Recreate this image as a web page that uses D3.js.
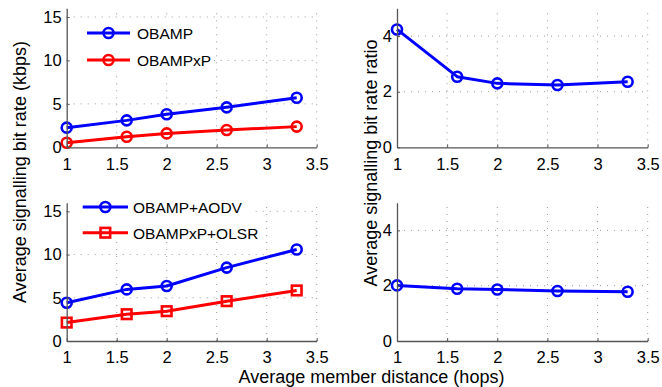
<!DOCTYPE html>
<html>
<head>
<meta charset="utf-8">
<script src="https://cdn.jsdelivr.net/npm/d3@7/dist/d3.min.js"></script>
<style>
  html, body { margin: 0; padding: 0; background: #fff; }
  svg { display: block; font-family: "Liberation Sans", Arial, Helvetica, sans-serif; }
</style>
</head>
<body>
<svg id="chart" width="662" height="387"></svg>
<script>
// ---- data ----
const hops = [1, 1.6, 2, 2.6, 3.3];
const obamp = [2.26, 3.1, 3.8, 4.6, 5.7];
const obampxp = [0.53, 1.22, 1.6, 2.0, 2.38];
const ratioTop = [4.24, 2.54, 2.30, 2.24, 2.36];
const obampAodv = [4.42, 5.97, 6.36, 8.49, 10.58];
const obampxpOlsr = [2.13, 3.10, 3.45, 4.61, 5.85];
const ratioBottom = [2.01, 1.89, 1.86, 1.81, 1.78];
const xTicks = [1, 1.5, 2, 2.5, 3, 3.5];
const yTicksRate = [0, 5, 10, 15];
const yTicksRatio = [0, 2, 4];
const yLabelRate = "Average signalling bit rate (kbps)";
const yLabelRatio = "Average signalling bit rate ratio";
const xLabel = "Average member distance (hops)";

const BLUE = "#0000ff", RED = "#ff0000";
const svg = d3.select("#chart");

const panels = [
  { x0: 66.7, x1: 316.7, y0: 147.3, y1: 8.3, ymax: 16, yTicks: yTicksRate,
    series: [{ name: "OBAMP", vals: obamp, color: BLUE, marker: "circle" },
             { name: "OBAMPxP", vals: obampxp, color: RED, marker: "circle" }],
    legend: { box: [72, 20, 214, 75], lx0: 87, lx1: 130, ys: [33, 60], tx: 137 } },
  { x0: 397, x1: 647.7, y0: 147.3, y1: 8.3, ymax: 5, yTicks: yTicksRatio,
    series: [{ name: "ratio", vals: ratioTop, color: BLUE, marker: "circle" }] },
  { x0: 66.7, x1: 316.7, y0: 341, y1: 202.7, ymax: 16, yTicks: yTicksRate,
    series: [{ name: "OBAMP+AODV", vals: obampAodv, color: BLUE, marker: "circle" },
             { name: "OBAMPxP+OLSR", vals: obampxpOlsr, color: RED, marker: "square" }],
    legend: { box: [70, 194, 255, 242], lx0: 82.7, lx1: 128, ys: [207, 232.7], tx: 133 } },
  { x0: 397, x1: 647.7, y0: 341, y1: 202.7, ymax: 5, yTicks: yTicksRatio,
    series: [{ name: "ratio", vals: ratioBottom, color: BLUE, marker: "circle" }] }
];

function drawMarker(g, type, cx, cy, color) {
  if (type === "circle") {
    g.append("circle").attr("cx", cx).attr("cy", cy).attr("r", 5)
      .attr("fill", "none").attr("stroke", color).attr("stroke-width", 2.6);
  } else {
    g.append("rect").attr("x", cx - 4.8).attr("y", cy - 4.8).attr("width", 9.6).attr("height", 9.6)
      .attr("fill", "none").attr("stroke", color).attr("stroke-width", 2.6);
  }
}

panels.forEach(p => {
  const x = d3.scaleLinear().domain([1, 3.5]).range([p.x0, p.x1]);
  const y = d3.scaleLinear().domain([0, p.ymax]).range([p.y0, p.y1]);
  const g = svg.append("g");

  // grid
  const grid = g.append("g").attr("stroke", "#9a9a9a").attr("stroke-width", 1)
    .attr("stroke-dasharray", "1,6").attr("fill", "none");
  xTicks.slice(1).forEach(t => {
    grid.append("line").attr("x1", x(t)).attr("x2", x(t)).attr("y1", y(0)).attr("y2", y(p.ymax));
  });
  p.yTicks.slice(1).forEach(t => {
    grid.append("line").attr("x1", x(1)).attr("x2", x(3.5)).attr("y1", y(t)).attr("y2", y(t));
  });

  // series
  p.series.forEach(s => {
    const pts = hops.map((h, i) => [x(h), y(s.vals[i])]);
    g.append("path").attr("d", d3.line()(pts)).attr("fill", "none")
      .attr("stroke", s.color).attr("stroke-width", 3).attr("stroke-linejoin", "round");
    pts.forEach(pt => drawMarker(g, s.marker, pt[0], pt[1], s.color));
  });

  // axes
  const ax = g.append("g").attr("transform", `translate(0,${p.y0})`)
    .call(d3.axisBottom(x).tickValues(xTicks).tickFormat(d3.format("")).tickSizeInner(-3).tickSizeOuter(0).tickPadding(10.5));
  const ay = g.append("g").attr("transform", `translate(${p.x0},0)`)
    .call(d3.axisLeft(y).tickValues(p.yTicks).tickFormat(d3.format("")).tickSizeInner(-3).tickSizeOuter(0).tickPadding(5));
  [ax, ay].forEach(a => {
    a.select(".domain").attr("stroke", "#555").attr("stroke-width", 1.3);
    a.selectAll(".tick line").attr("stroke", "#555");
    a.selectAll("text").attr("font-size", 16.5).attr("fill", "#000")
      .attr("font-family", '"Liberation Sans", Arial, Helvetica, sans-serif');
  });

  // legend
  if (p.legend) {
    const L = p.legend;
    g.append("rect").attr("x", L.box[0]).attr("y", L.box[1])
      .attr("width", L.box[2] - L.box[0]).attr("height", L.box[3] - L.box[1]).attr("fill", "#fff");
    p.series.forEach((s, i) => {
      const ly = L.ys[i];
      g.append("line").attr("x1", L.lx0).attr("x2", L.lx1).attr("y1", ly).attr("y2", ly)
        .attr("stroke", s.color).attr("stroke-width", 3);
      drawMarker(g, s.marker, (L.lx0 + L.lx1) / 2, ly, s.color);
      g.append("text").attr("x", L.tx).attr("y", ly + 6).attr("font-size", 15.5).text(s.name);
    });
  }
});

// axis labels
svg.append("text").attr("transform", "translate(26,172) rotate(-90)")
  .attr("text-anchor", "middle").attr("font-size", 18).text(yLabelRate);
svg.append("text").attr("transform", "translate(377,163) rotate(-90)")
  .attr("text-anchor", "middle").attr("font-size", 18).text(yLabelRatio);
svg.append("text").attr("x", 371.5).attr("y", 382.5)
  .attr("text-anchor", "middle").attr("font-size", 18).text(xLabel);
</script>
</body>
</html>
